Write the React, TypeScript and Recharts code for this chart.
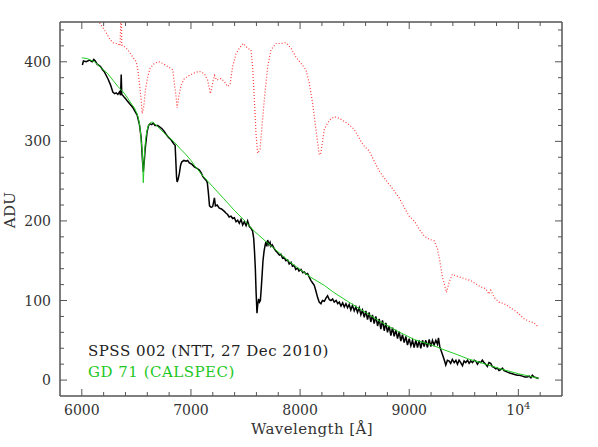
import React from "react";
import { LineChart, Line, XAxis, YAxis } from "recharts";

// wavelength [Å], ADU
const spssObserved: [number, number][] = [
  [6005, 396], [6015, 401], [6040, 400], [6070, 402], [6095, 400], [6110, 403], [6123, 401], [6140, 397],
  [6171, 394], [6190, 390], [6208, 387], [6238, 379], [6263, 371], [6284, 362], [6300, 360], [6315, 361],
  [6330, 359], [6345, 362], [6355, 358], [6361, 384], [6366, 359], [6380, 357], [6391, 355], [6405, 353],
  [6421, 350], [6440, 347], [6452, 345], [6470, 342], [6482, 339], [6507, 333], [6528, 321], [6544, 304],
  [6555, 278], [6563, 262], [6572, 275], [6580, 290], [6598, 312], [6612, 320], [6625, 322], [6640, 321],
  [6655, 323], [6670, 320], [6696, 320], [6715, 318], [6733, 316], [6752, 313], [6772, 309], [6795, 305],
  [6818, 302], [6842, 297], [6855, 295], [6860, 280], [6868, 255], [6873, 249], [6882, 252], [6894, 260],
  [6905, 270], [6915, 274], [6935, 276], [6955, 275], [6970, 276], [6986, 273], [7010, 271], [7031, 268],
  [7055, 266], [7077, 264], [7095, 260], [7108, 256], [7125, 253], [7140, 251], [7150, 248], [7160, 235],
  [7170, 219], [7185, 217], [7199, 218], [7215, 229], [7224, 219], [7240, 220], [7260, 216], [7280, 215],
  [7306, 212], [7320, 210], [7336, 208], [7350, 205], [7367, 206], [7382, 203], [7398, 204], [7413, 199],
  [7428, 201], [7443, 197], [7459, 202], [7474, 195], [7489, 199], [7505, 194], [7519, 200], [7535, 193],
  [7550, 191], [7565, 187], [7575, 178], [7583, 160], [7590, 140], [7597, 110], [7605, 84], [7612, 95],
  [7620, 102], [7628, 98], [7636, 100], [7644, 115], [7651, 130], [7660, 150], [7670, 162], [7680, 170],
  [7688, 174], [7695, 168], [7703, 176], [7715, 170], [7725, 173], [7733, 168], [7745, 170], [7764, 165],
  [7780, 162], [7794, 160], [7810, 157], [7825, 158], [7840, 153], [7855, 154], [7870, 150], [7886, 151],
  [7900, 146], [7917, 148], [7930, 143], [7947, 144], [7960, 139], [7977, 141], [7990, 137], [8008, 139],
  [8025, 135], [8038, 136], [8055, 133], [8069, 134], [8085, 129], [8100, 125], [8115, 122], [8130, 119],
  [8145, 112], [8160, 104], [8175, 98], [8191, 96], [8205, 100], [8222, 99], [8237, 103], [8252, 106],
  [8268, 101], [8283, 100], [8298, 102], [8313, 98], [8330, 100], [8345, 96], [8359, 98], [8375, 93],
  [8390, 97], [8405, 92], [8420, 96], [8435, 91], [8450, 95], [8465, 88], [8480, 94], [8496, 87],
  [8511, 92], [8526, 85], [8542, 91], [8557, 82], [8572, 88], [8588, 79], [8603, 87], [8618, 76],
  [8633, 85], [8648, 73], [8663, 82], [8679, 71], [8694, 80], [8710, 68], [8725, 77], [8740, 64],
  [8755, 75], [8771, 62], [8786, 72], [8801, 60], [8816, 68], [8832, 56], [8847, 66], [8862, 55],
  [8877, 63], [8893, 52], [8908, 61], [8923, 49], [8938, 57], [8954, 47], [8969, 55], [8984, 44],
  [9000, 52], [9015, 43], [9030, 50], [9045, 41], [9061, 50], [9076, 41], [9091, 50], [9106, 40],
  [9122, 50], [9137, 42], [9152, 50], [9167, 41], [9183, 51], [9198, 42], [9213, 50], [9228, 44],
  [9244, 50], [9259, 45], [9268, 53], [9280, 42], [9295, 36], [9310, 30], [9322, 25], [9335, 19],
  [9350, 25], [9366, 24], [9380, 21], [9395, 26], [9412, 22], [9428, 25], [9442, 20], [9457, 25],
  [9472, 22], [9488, 18], [9503, 24], [9518, 22], [9534, 25], [9549, 21], [9564, 24], [9580, 22],
  [9595, 25], [9610, 24], [9625, 20], [9640, 23], [9656, 22], [9670, 25], [9686, 22], [9700, 20],
  [9716, 17], [9731, 22], [9747, 21], [9762, 17], [9778, 16], [9793, 14], [9808, 15], [9823, 12],
  [9839, 13], [9854, 15], [9869, 12], [9885, 11], [9900, 10], [9920, 9], [9945, 8], [9965, 7],
  [9991, 6], [10010, 6], [10037, 5], [10060, 4], [10082, 4], [10100, 5], [10115, 3], [10128, 6],
  [10143, 4], [10165, 3], [10185, 2],
];

const calspecModel: [number, number][] = [
  [6000, 405], [6050, 404], [6116, 400], [6180, 392], [6238, 385], [6290, 376], [6330, 369], [6380, 362],
  [6421, 354], [6460, 346], [6482, 342], [6505, 335], [6519, 329], [6530, 320], [6537, 312], [6545, 300],
  [6553, 287], [6558, 272], [6563, 248], [6568, 262], [6572, 280], [6577, 290], [6585, 303], [6595, 312],
  [6605, 318], [6620, 322], [6635, 324], [6650, 324], [6700, 318], [6750, 311], [6800, 305], [6849, 299],
  [6900, 291], [6950, 284], [7000, 276], [7031, 270], [7100, 258], [7200, 243], [7300, 228], [7400, 213],
  [7500, 199], [7581, 187], [7688, 174], [7800, 161], [7900, 149], [8000, 139], [8100, 129], [8222, 119],
  [8300, 111], [8435, 99], [8600, 85], [8740, 73], [8900, 61], [9045, 51], [9228, 43], [9320, 38],
  [9420, 33], [9533, 27], [9700, 20], [9839, 14], [10000, 8], [10100, 5], [10189, 2],
];

const redCurve: [number, number][] = [
  [6130, 475], [6162, 449], [6208, 440], [6254, 429], [6284, 424], [6310, 423], [6330, 423], [6350, 420],
  [6361, 470], [6366, 421], [6375, 421], [6421, 415], [6467, 406], [6498, 400], [6513, 390], [6528, 373],
  [6544, 352], [6553, 335], [6568, 344], [6583, 365], [6604, 381], [6626, 392], [6665, 398], [6705, 400],
  [6741, 398], [6787, 394], [6833, 390], [6848, 373], [6864, 356], [6873, 342], [6888, 356], [6910, 371],
  [6940, 379], [6986, 383], [7031, 386], [7077, 388], [7123, 385], [7153, 377], [7178, 360], [7199, 373],
  [7215, 383], [7236, 377], [7276, 379], [7306, 375], [7336, 369], [7358, 371], [7382, 394], [7413, 410],
  [7443, 417], [7480, 423], [7519, 417], [7550, 415], [7565, 394], [7581, 352], [7596, 310], [7611, 285],
  [7633, 290], [7651, 319], [7672, 352], [7703, 394], [7733, 415], [7779, 423], [7825, 423], [7871, 424],
  [7917, 417], [7962, 406], [8008, 398], [8054, 390], [8084, 373], [8115, 348], [8145, 315], [8176, 283],
  [8190, 285], [8206, 300], [8222, 315], [8252, 323], [8280, 328], [8313, 331], [8359, 329], [8405, 325],
  [8450, 321], [8496, 315], [8542, 304], [8557, 300], [8588, 294], [8633, 288], [8679, 275], [8725, 263],
  [8771, 254], [8816, 246], [8862, 238], [8908, 229], [8954, 217], [9000, 206], [9045, 200], [9091, 190],
  [9137, 181], [9183, 177], [9228, 175], [9259, 165], [9280, 150], [9305, 129], [9329, 117], [9341, 110],
  [9366, 123], [9396, 133], [9427, 131], [9473, 129], [9518, 127], [9564, 125], [9610, 121], [9656, 117],
  [9701, 115], [9731, 108], [9747, 113], [9778, 104], [9823, 98], [9869, 96], [9915, 92], [9961, 88],
  [10006, 83], [10052, 77], [10098, 74], [10143, 72], [10174, 68],
];

const xTicks = [6000, 6200, 6400, 6600, 6800, 7000, 7200, 7400, 7600, 7800, 8000, 8200, 8400, 8600, 8800, 9000, 9200, 9400, 9600, 9800, 10000, 10200];
const yTicks = [0, 20, 40, 60, 80, 100, 120, 140, 160, 180, 200, 220, 240, 260, 280, 300, 320, 340, 360, 380, 400, 420, 440];

const toRows = (pts: [number, number][]) => pts.map(([w, v]) => ({ w, v }));

const FRAME = "#555";
const TEXT = "#333";
const FONT = "'DejaVu Serif', serif";

function BottomTick(props: any) {
  const { x, y, payload } = props;
  const major = payload.value % 1000 === 0;
  return (
    <g>
      <line x1={x} x2={x} y1={y} y2={y - (major ? 7 : 4)} stroke={FRAME} strokeWidth={1} />
      {major && (
        <text x={x} y={y + 19} textAnchor="middle" fontFamily={FONT} fontSize={14} fill={TEXT}>
          {payload.value === 10000 ? (
            <>
              10<tspan dy={-6} fontSize={10}>4</tspan>
            </>
          ) : (
            payload.value
          )}
        </text>
      )}
    </g>
  );
}

function TopTick(props: any) {
  const { x, y, payload } = props;
  const major = payload.value % 1000 === 0;
  return <line x1={x} x2={x} y1={y} y2={y + (major ? 7 : 4)} stroke={FRAME} strokeWidth={1} />;
}

function LeftTick(props: any) {
  const { x, y, payload } = props;
  const major = payload.value % 100 === 0;
  return (
    <g>
      <line x1={x} x2={x + (major ? 7 : 4)} y1={y} y2={y} stroke={FRAME} strokeWidth={1} />
      {major && (
        <text x={x - 9} y={y + 5} textAnchor="end" fontFamily={FONT} fontSize={14} fill={TEXT}>
          {payload.value}
        </text>
      )}
    </g>
  );
}

function RightTick(props: any) {
  const { x, y, payload } = props;
  const major = payload.value % 100 === 0;
  return <line x1={x} x2={x - (major ? 7 : 4)} y1={y} y2={y} stroke={FRAME} strokeWidth={1} />;
}

export default function App() {
  const W = 598;
  const H = 447;
  const axisLine = { stroke: FRAME, strokeWidth: 1.5 };
  return (
    <div style={{ position: "absolute", left: 0, top: 0, width: W, height: H, background: "#fff" }}>
      <LineChart width={W} height={H} margin={{ top: 21, right: 35, bottom: 50, left: 59 }}>
        <XAxis xAxisId="b" dataKey="w" type="number" domain={[5800, 10400]} allowDataOverflow ticks={xTicks}
          interval={0} height={1} tickSize={0} tickMargin={0} tickLine={false} tick={BottomTick} axisLine={axisLine} />
        <XAxis xAxisId="t" orientation="top" dataKey="w" type="number" domain={[5800, 10400]} allowDataOverflow
          ticks={xTicks} interval={0} height={1} tickSize={0} tickMargin={0} tickLine={false} tick={TopTick}
          axisLine={axisLine} />
        <YAxis yAxisId="l" type="number" domain={[-20, 450]} allowDataOverflow ticks={yTicks} interval={0}
          width={1} tickSize={0} tickMargin={0} tickLine={false} tick={LeftTick} axisLine={axisLine} />
        <YAxis yAxisId="r" orientation="right" type="number" domain={[-20, 450]} allowDataOverflow ticks={yTicks}
          interval={0} width={1} tickSize={0} tickMargin={0} tickLine={false} tick={RightTick} axisLine={axisLine} />
        <Line xAxisId="b" yAxisId="l" data={toRows(redCurve)} dataKey="v" type="linear" stroke="#ff3b3b"
          strokeWidth={1.2} strokeDasharray="1 2" dot={false} isAnimationActive={false} />
        <Line xAxisId="b" yAxisId="l" data={toRows(spssObserved)} dataKey="v" type="linear" stroke="#000"
          strokeWidth={1.5} dot={false} isAnimationActive={false} />
        <Line xAxisId="b" yAxisId="l" data={toRows(calspecModel)} dataKey="v" type="linear" stroke="#22cc22"
          strokeWidth={1} dot={false} isAnimationActive={false} />
      </LineChart>
      <svg width={W} height={H} style={{ position: "absolute", left: 0, top: 0, pointerEvents: "none" }}>
        <text x={88} y={356} fontFamily={FONT} fontSize={15} letterSpacing={0.5} fill="#222">SPSS 002 (NTT, 27 Dec 2010)</text>
        <text x={88} y={377} fontFamily={FONT} fontSize={15} letterSpacing={0.5} fill="#1ec81e">GD 71 (CALSPEC)</text>
        <text x={312} y={434} textAnchor="middle" fontFamily={FONT} fontSize={15} letterSpacing={0.4} fill={TEXT}>Wavelength [Å]</text>
        <text transform="translate(15,210) rotate(-90)" textAnchor="middle" fontFamily={FONT} fontSize={15} letterSpacing={0.4} fill={TEXT}>ADU</text>
      </svg>
    </div>
  );
}
